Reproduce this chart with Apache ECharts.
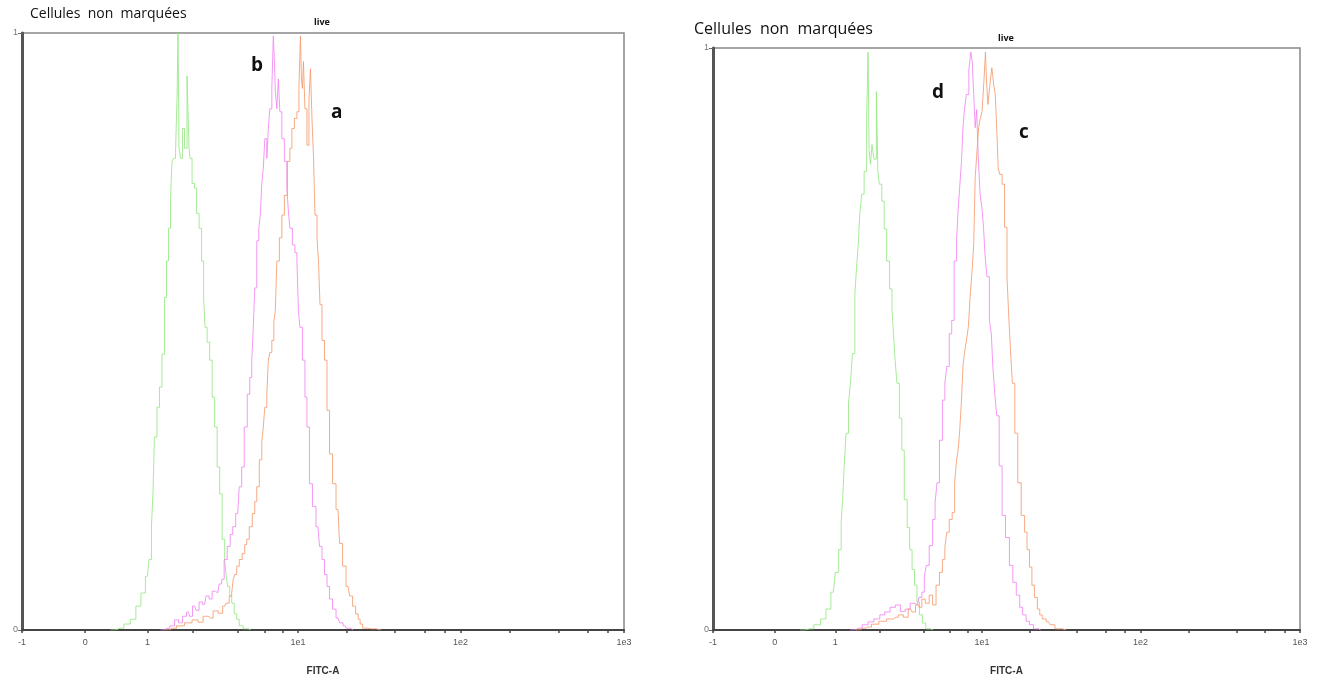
<!DOCTYPE html>
<html><head><meta charset="utf-8">
<script src="https://cdn.jsdelivr.net/npm/echarts@6/dist/echarts.min.js"></script>
<style>html,body{margin:0;padding:0;background:#fff;}#c{width:1321px;height:681px;}</style>
</head><body><div id="c"></div>
<script>
// x in display channels (-1 .. 1e3 biexponential axis mapped to 0..600), y normalised count
const tickLabels = ['-1', '0', '1', '1e1', '1e2', '1e3'];
const tickChannels = [0, 63, 125, 275, 437, 600];
const minorChannels = [170, 215, 242, 260, 324, 372, 401, 421, 486, 535, 564, 584];
const yTickLabels = ['0', '1'];

const leftGreen = [[88,0],[98,0.003],[105,0.01],[111,0.018],[116,0.04],[121,0.062],[125,0.09],[128,0.118],[130,0.173],[131,0.228],[133,0.323],[136,0.373],[138,0.407],[141,0.462],[143,0.557],[145,0.618],[147,0.673],[149,0.723],[150,0.785],[152,0.79],[154,0.8],[155,0.89],[156,1.0],[157,0.807],[159,0.79],[161,0.84],[163,0.807],[166,0.928],[167,0.807],[168,0.79],[171,0.748],[173,0.74],[175,0.698],[178,0.673],[180,0.618],[182,0.557],[183,0.507],[186,0.482],[188,0.452],[191,0.39],[193,0.34],[196,0.273],[198,0.228],[201,0.152],[203,0.118],[204,0.09],[206,0.073],[208,0.057],[210,0.045],[213,0.027],[215,0.018],[218,0.007],[223,0.002],[228,0]];
const leftPink = [[138,0],[145,0.003],[150,0.007],[154,0.017],[158,0.012],[162,0.023],[166,0.03],[168,0.023],[172,0.04],[175,0.033],[178,0.047],[182,0.043],[185,0.057],[188,0.052],[191,0.065],[195,0.062],[198,0.077],[200,0.085],[203,0.118],[206,0.14],[209,0.16],[211,0.173],[215,0.195],[218,0.24],[220,0.273],[223,0.34],[226,0.395],[228,0.423],[230,0.452],[231,0.507],[233,0.573],[235,0.652],[237,0.673],[238,0.695],[240,0.748],[241,0.773],[243,0.823],[245,0.79],[246,0.84],[248,0.873],[250,0.907],[251,0.995],[252,0.957],[253,0.902],[255,0.873],[256,0.923],[258,0.868],[260,0.823],[263,0.785],[265,0.74],[266,0.702],[268,0.673],[271,0.645],[273,0.632],[275,0.618],[276,0.535],[278,0.507],[281,0.452],[283,0.39],[285,0.34],[288,0.245],[291,0.207],[295,0.173],[298,0.14],[300,0.118],[303,0.093],[305,0.073],[308,0.052],[311,0.035],[315,0.02],[318,0.012],[322,0.007],[325,0.003],[330,0]];
const leftOrange = [[143,0],[150,0.003],[158,0.007],[166,0.012],[173,0.017],[178,0.013],[183,0.023],[188,0.02],[193,0.032],[198,0.028],[202,0.04],[205,0.045],[208,0.057],[210,0.062],[211,0.085],[213,0.093],[215,0.107],[218,0.118],[221,0.128],[223,0.143],[225,0.152],[228,0.173],[231,0.195],[233,0.215],[235,0.24],[238,0.285],[240,0.315],[241,0.34],[243,0.373],[245,0.395],[246,0.452],[248,0.465],[250,0.485],[252,0.515],[253,0.535],[255,0.618],[258,0.657],[260,0.695],[263,0.728],[266,0.785],[268,0.807],[270,0.84],[273,0.857],[275,0.868],[277,0.907],[278,0.995],[279,0.923],[280,0.907],[281,0.952],[283,0.873],[285,0.812],[287,0.89],[288,0.94],[290,0.857],[291,0.795],[293,0.695],[295,0.657],[296,0.618],[298,0.545],[300,0.485],[303,0.452],[305,0.368],[308,0.295],[311,0.245],[315,0.202],[318,0.145],[321,0.107],[325,0.073],[328,0.057],[331,0.04],[334,0.027],[336,0.018],[338,0.01],[341,0.003],[348,0.002],[358,0]];

const rightGreen = [[89,0],[99,0.002],[107,0.009],[113,0.019],[118,0.036],[123,0.065],[127,0.099],[130,0.138],[132,0.185],[133,0.224],[135,0.279],[137,0.338],[140,0.39],[141,0.424],[144,0.475],[146,0.578],[148,0.629],[149,0.663],[151,0.715],[153,0.749],[156,0.788],[158,0.877],[159,0.993],[160,0.826],[162,0.8],[163,0.834],[166,0.809],[168,0.925],[169,0.788],[171,0.766],[174,0.737],[176,0.689],[179,0.634],[182,0.586],[184,0.549],[185,0.509],[187,0.467],[189,0.424],[192,0.364],[194,0.309],[197,0.224],[200,0.176],[202,0.138],[205,0.104],[207,0.077],[210,0.048],[212,0.026],[216,0.012],[219,0.002],[225,0]];
const rightPink = [[140,0],[149,0.003],[156,0.009],[161,0.014],[168,0.019],[173,0.026],[178,0.031],[184,0.039],[189,0.043],[194,0.032],[199,0.036],[204,0.046],[209,0.043],[212,0.056],[215,0.065],[217,0.091],[219,0.111],[223,0.145],[226,0.19],[228,0.219],[230,0.253],[233,0.326],[236,0.395],[238,0.424],[240,0.453],[243,0.509],[245,0.532],[248,0.634],[250,0.672],[251,0.72],[253,0.757],[255,0.805],[256,0.863],[258,0.894],[260,0.92],[263,0.962],[264,0.993],[266,0.976],[267,0.92],[269,0.863],[270,0.894],[272,0.817],[274,0.749],[276,0.723],[277,0.692],[279,0.646],[281,0.607],[284,0.532],[285,0.509],[287,0.453],[289,0.407],[291,0.368],[294,0.282],[297,0.197],[301,0.159],[305,0.111],[308,0.082],[312,0.06],[315,0.039],[318,0.026],[322,0.015],[325,0.009],[330,0.002],[335,0]];
const rightOrange = [[146,0],[153,0.003],[158,0.005],[166,0.01],[173,0.015],[182,0.019],[187,0.022],[192,0.026],[197,0.022],[202,0.036],[205,0.031],[209,0.043],[212,0.039],[215,0.053],[219,0.046],[223,0.06],[226,0.043],[230,0.077],[233,0.099],[236,0.121],[238,0.142],[240,0.168],[243,0.19],[246,0.202],[248,0.253],[250,0.292],[251,0.309],[253,0.338],[255,0.395],[256,0.453],[258,0.476],[260,0.497],[262,0.521],[264,0.578],[266,0.621],[267,0.663],[269,0.778],[271,0.826],[272,0.863],[274,0.877],[276,0.891],[278,0.945],[279,0.993],[280,0.945],[282,0.903],[284,0.936],[286,0.966],[288,0.936],[289,0.92],[291,0.863],[292,0.795],[294,0.783],[297,0.766],[299,0.692],[302,0.607],[303,0.532],[305,0.484],[307,0.424],[310,0.338],[313,0.253],[317,0.197],[320,0.168],[322,0.138],[325,0.108],[327,0.077],[330,0.056],[333,0.036],[335,0.026],[338,0.019],[343,0.014],[346,0.009],[353,0.002],[361,0]];

const GREEN = '#96e886', PINK = '#f286f2', ORANGE = '#f59c70';
const allTicks = tickChannels.concat(minorChannels).sort((a, b) => a - b);

function xAxisFor(gi) {
  return {
    gridIndex: gi, type: 'value', min: 0, max: 600,
    name: 'FITC-A', nameLocation: 'middle', nameGap: 36,
    nameTextStyle: { fontFamily: 'Liberation Sans', fontSize: 10, fontWeight: 'bold', color: '#333' },
    axisLine: { show: true, onZero: false, lineStyle: { color: '#444', width: 2 } },
    axisTick: { show: true, customValues: allTicks, length: 3, lineStyle: { color: '#444', width: 1.5 } },
    axisLabel: { show: true, customValues: tickChannels, margin: 8, fontFamily: 'Liberation Sans', fontSize: 9, color: '#555',
      formatter: v => tickLabels[tickChannels.indexOf(v)] },
    splitLine: { show: false }
  };
}
function yAxisFor(gi) {
  return {
    gridIndex: gi, type: 'value', min: 0, max: 1, interval: 1,
    axisLine: { show: true, lineStyle: { color: '#555', width: 3 } },
    axisTick: { show: true, length: 4, inside: false, lineStyle: { color: '#666', width: 1 } },
    axisLabel: { margin: 4, fontFamily: 'Liberation Sans', fontSize: 9, color: '#777', formatter: v => yTickLabels[v] },
    splitLine: { show: false }
  };
}
function s(data, color, gi) {
  return { type: 'line', xAxisIndex: gi, yAxisIndex: gi, data: data, step: 'middle', symbol: 'none',
    lineStyle: { color: color, width: 1, opacity: 0.85 }, silent: true, animation: false };
}
const txt = (left, top, text, size, weight) => ({ type: 'text', left: left, top: top,
  style: { text: text, fontFamily: 'Open Sans', fontSize: size, fontWeight: weight, fill: '#111' } });

const chart = echarts.init(document.getElementById('c'), null, { renderer: 'canvas' });
chart.setOption({
  backgroundColor: '#fff',
  animation: false,
  grid: [
    { left: 22, top: 33, width: 602, height: 601, show: true, borderColor: '#888', borderWidth: 1.5 },
    { left: 713, top: 48, width: 587, height: 585, show: true, borderColor: '#888', borderWidth: 1.5 }
  ],
  xAxis: [xAxisFor(0), xAxisFor(1)],
  yAxis: [yAxisFor(0), yAxisFor(1)],
  series: [
    s(leftGreen, GREEN, 0), s(leftPink, PINK, 0), s(leftOrange, ORANGE, 0),
    s(rightGreen, GREEN, 1), s(rightPink, PINK, 1), s(rightOrange, ORANGE, 1)
  ],
  graphic: [
    txt(30, 7, 'Cellules  non  marquées', 14, 'normal'),
    txt(314, 18, 'live', 9, 'bold'),
    txt(251, 56, 'b', 19, 'bold'),
    txt(331, 103, 'a', 19, 'bold'),
    txt(694, 21, 'Cellules  non  marquées', 16, 'normal'),
    txt(998, 34, 'live', 9, 'bold'),
    txt(932, 83, 'd', 19, 'bold'),
    txt(1019, 123, 'c', 19, 'bold')
  ]
});
</script></body></html>
